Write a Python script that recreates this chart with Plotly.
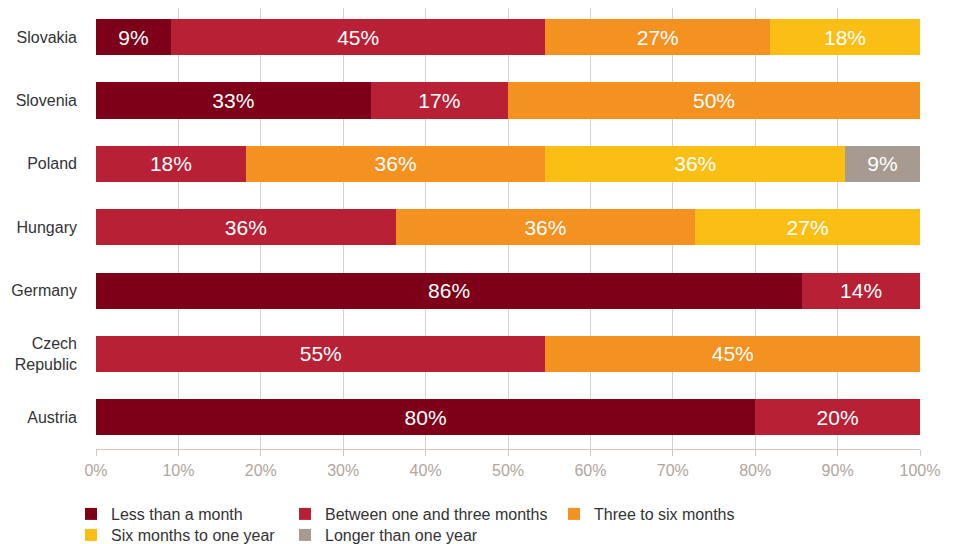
import plotly.graph_objects as go

countries = ["Austria", "Czech<br>Republic", "Germany", "Hungary", "Poland", "Slovenia", "Slovakia"]

less_than_month = [80.0, None, 85.71, None, None, 33.33, 9.09]
one_to_three = [20.0, 54.55, 14.29, 36.36, 18.18, 16.67, 45.45]
three_to_six = [None, 45.45, None, 36.36, 36.36, 50.0, 27.27]
six_to_year = [None, None, None, 27.27, 36.36, None, 18.18]
longer_year = [None, None, None, None, 9.09, None, None]

series_names = ["Less than a month", "Between one and three months", "Three to six months",
                "Six months to one year", "Longer than one year"]
series_values = [less_than_month, one_to_three, three_to_six, six_to_year, longer_year]
series_colors = ["#7d0018", "#b82035", "#f39121", "#fbbe14", "#a79a90"]

tick_vals = [0, 10, 20, 30, 40, 50, 60, 70, 80, 90, 100]
tick_text = ["0%", "10%", "20%", "30%", "40%", "50%", "60%", "70%", "80%", "90%", "100%"]

FONT = "Liberation Sans, Arial, Helvetica, sans-serif"

# page has an 8px body margin: figure is placed at (8, 8)
W, H = 945, 536
ML, MR, MT, MB = 88, 33, 0, 95
PW, PH = W - ML - MR, H - MT - MB

# legend entry positions: (text left x, text centre y) in page pixels
legend_pos = [(111, 515), (325, 515), (594, 515), (111, 536), (325, 536)]
legend_ids = ["legend", "legend2", "legend3", "legend4", "legend5"]


def legend_at(tx, ty):
    left = tx - 8 - 40
    top = ty - 8 - 18
    return dict(
        orientation="v", xref="paper", yref="paper", xanchor="left", yanchor="top",
        x=(left - ML) / PW, y=1 - (top - MT) / PH,
        font=dict(size=16, color="#333333", family=FONT), bgcolor="rgba(0,0,0,0)",
        itemclick=False, itemdoubleclick=False, visible=True,
    )


fig = go.Figure()
for name, vals, col, lg in zip(series_names, series_values, series_colors, legend_ids):
    fig.add_trace(go.Bar(
        x=vals, y=countries, name=name, orientation="h",
        marker=dict(color=col, line=dict(width=0)),
        texttemplate="%{x:.0f}%", textposition="inside", insidetextanchor="middle",
        textfont=dict(color="white", size=21, family=FONT),
        legend=lg, showlegend=True, hoverinfo="skip",
    ))

layout_legends = {lid: legend_at(*pos) for lid, pos in zip(legend_ids, legend_pos)}

fig.update_layout(
    width=W, height=H,
    showlegend=True,
    margin=dict(l=ML, r=MR, t=MT, b=MB, autoexpand=False),
    barmode="stack", bargap=0.43,
    plot_bgcolor="white", paper_bgcolor="white",
    font=dict(family=FONT, size=16, color="#333333"),
    uniformtext=dict(mode="show", minsize=10),
    xaxis=dict(
        range=[0, 100], tickvals=tick_vals, ticktext=tick_text,
        showgrid=True, gridcolor="#d8d0ca", gridwidth=1, zeroline=False,
        showline=True, linecolor="#d0c7c0", linewidth=1,
        ticks="outside", ticklen=6, tickcolor="#d0c7c0",
        ticklabelstandoff=1,
        tickfont=dict(size=16, color="#b1a59d", family=FONT),
        fixedrange=True,
    ),
    yaxis=dict(
        range=[-0.5, 6.46],
        showgrid=False, zeroline=False, showline=False, ticks="",
        ticklabelstandoff=18,
        tickfont=dict(size=16, color="#333333", family=FONT),
        fixedrange=True,
    ),
    **layout_legends,
)

fig.write_html("out.html")
